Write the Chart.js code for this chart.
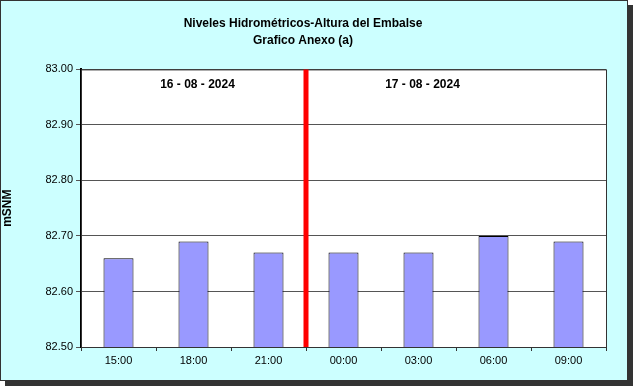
<!DOCTYPE html>
<html>
<head>
<meta charset="utf-8">
<script src="https://cdn.jsdelivr.net/npm/chart.js@4"></script>
<style>
  body { margin: 0; background: #fff; }
  canvas { display: block; }
</style>
</head>
<body>
<canvas id="chart" width="633" height="386"></canvas>
<script>
const hours = ['15:00', '18:00', '21:00', '00:00', '03:00', '06:00', '09:00'];
const levels = [82.66, 82.69, 82.67, 82.67, 82.67, 82.70, 82.69];
const dayLabels = ['16 - 08 - 2024', '17 - 08 - 2024'];
const dayLabelAt = [1, 4];   // category the date label sits over
const titleLines = ['Niveles Hidrométricos-Altura del Embalse', 'Grafico Anexo (a)'];

// background, frame, day separator and date labels
const decorations = {
    id: 'decorations',
    beforeDraw(chart) {
        const ctx = chart.ctx;
        ctx.save();
        ctx.fillStyle = '#ccffff';
        ctx.fillRect(0, 0, 628, 381);
        // shadow
        ctx.fillStyle = '#333';
        ctx.fillRect(628, 5, 5, 381);
        ctx.fillRect(5, 381, 628, 5);
        ctx.strokeStyle = '#333';
        ctx.lineWidth = 1;
        ctx.strokeRect(0.5, 0.5, 627, 380);
        const a = chart.chartArea;
        ctx.fillStyle = '#fff';
        ctx.fillRect(a.left, a.top, a.right - a.left, a.bottom - a.top);
        ctx.restore();
    },
    afterDatasetsDraw(chart) {
        const ctx = chart.ctx;
        const a = chart.chartArea;
        const x = chart.scales.x;
        ctx.save();
        ctx.strokeStyle = '#333';
        ctx.lineWidth = 1;
        ctx.strokeRect(a.left + 0.5, a.top + 0.5, a.right - a.left, a.bottom - a.top);
        // separator between days
        const sep = (x.getPixelForValue(2) + x.getPixelForValue(3)) / 2;
        ctx.strokeStyle = '#ff0000';
        ctx.lineWidth = 5;
        ctx.beginPath();
        ctx.moveTo(sep, a.top);
        ctx.lineTo(sep, a.bottom);
        ctx.stroke();
        // date labels
        ctx.fillStyle = '#000';
        ctx.font = 'bold 12px "Liberation Sans", Arial, sans-serif';
        ctx.textAlign = 'center';
        ctx.textBaseline = 'middle';
        dayLabels.forEach((t, i) => ctx.fillText(t, x.getPixelForValue(dayLabelAt[i]) + 4, a.top + 15));
        ctx.restore();
    }
};

new Chart(document.getElementById('chart'), {
    type: 'bar',
    data: {
        labels: hours,
        datasets: [{
            data: levels,
            backgroundColor: '#9999ff',
            borderColor: '#000',
            borderWidth: 1,
            borderSkipped: 'bottom',
            barPercentage: 0.4,
            categoryPercentage: 1.0
        }]
    },
    options: {
        responsive: false,
        animation: false,
        layout: { padding: { top: 0, right: 27, bottom: 0, left: 0 } },
        plugins: {
            legend: { display: false },
            tooltip: { enabled: false },
            title: {
                display: true,
                text: titleLines,
                color: '#000',
                font: { family: '"Liberation Sans", Arial, sans-serif', size: 12, weight: 'bold', lineHeight: 1.35 },
                padding: { top: 16, bottom: 21 }
            }
        },
        scales: {
            x: {
                grid: { display: true, drawOnChartArea: false, offset: true, tickLength: 4, color: '#333' },
                border: { color: '#333' },
                ticks: {
                    color: '#000',
                    padding: 3,
                    maxRotation: 0,
                    font: { family: '"Liberation Sans", Arial, sans-serif', size: 11 }
                },
                afterFit(scale) { scale.height = 39; }
            },
            y: {
                min: 82.5,
                max: 83.0,
                grid: { color: '#555', tickLength: 5 },
                border: { color: '#000', width: 2 },
                ticks: {
                    stepSize: 0.1,
                    color: '#000',
                    padding: 3,
                    font: { family: '"Liberation Sans", Arial, sans-serif', size: 11 },
                    callback: v => v.toFixed(2)
                },
                title: {
                    display: true,
                    text: 'mSNM',
                    color: '#000',
                    font: { family: '"Liberation Sans", Arial, sans-serif', size: 12, weight: 'bold' },
                    padding: 0
                },
                afterFit(scale) { scale.width = 81; }
            }
        }
    },
    plugins: [decorations]
});
</script>
</body>
</html>
